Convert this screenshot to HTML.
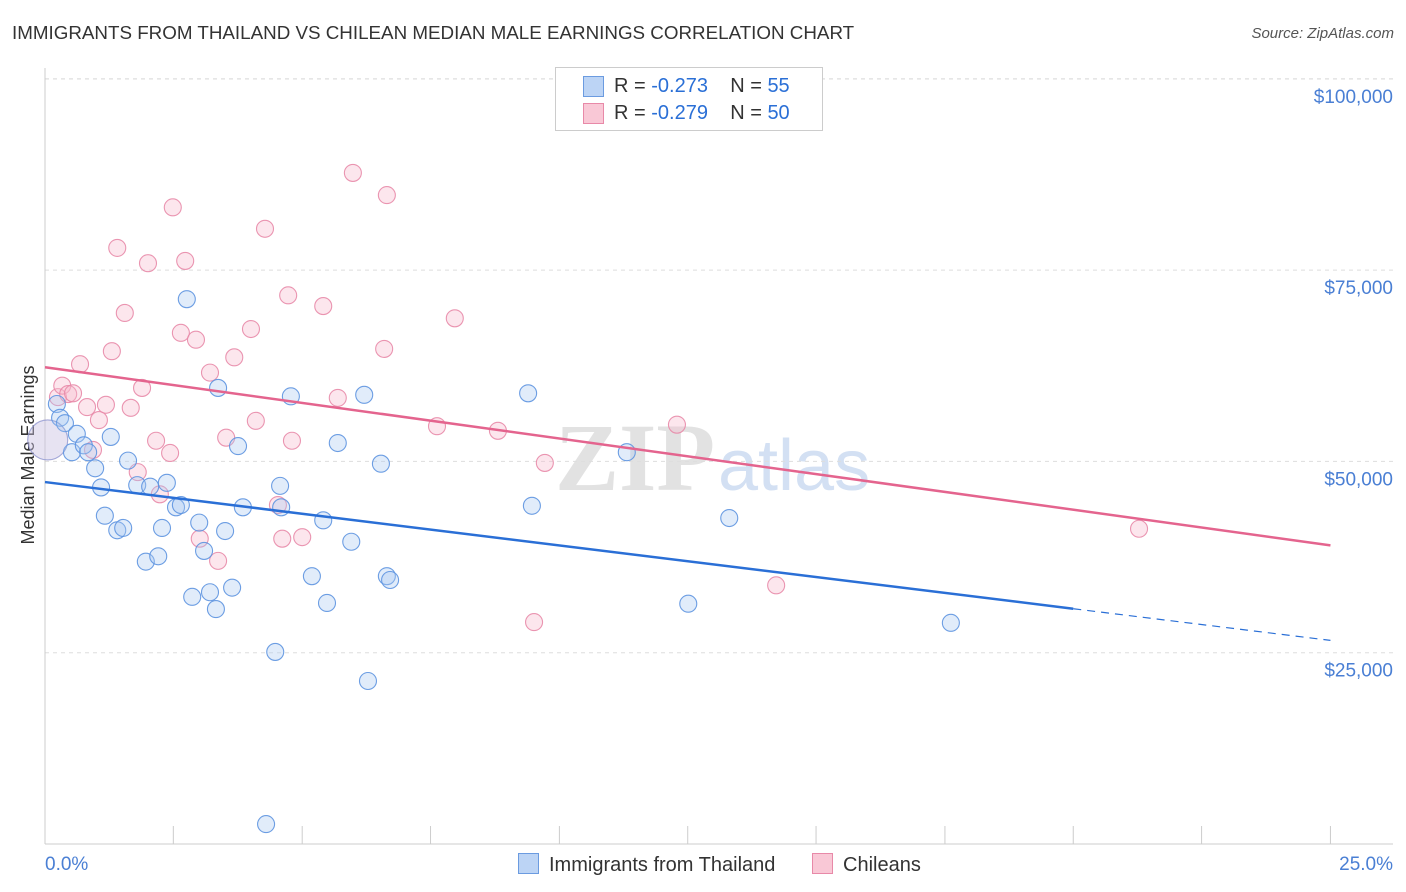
<!DOCTYPE html>
<html><head><meta charset="utf-8"><style>
body{margin:0;background:#fff;font-family:"Liberation Sans",sans-serif;}
#wrap{position:relative;width:1406px;height:892px;overflow:hidden;}
.t{position:absolute;white-space:nowrap;}
</style></head><body>
<div id="wrap">
<div class="t" style="left:12px;top:22px;font-size:18.8px;color:#333;">IMMIGRANTS FROM THAILAND VS CHILEAN MEDIAN MALE EARNINGS CORRELATION CHART</div>
<div class="t" style="right:12px;top:25px;font-size:15px;color:#555;font-style:italic;">Source: ZipAtlas.com</div>
<svg id="plot" width="1406" height="892" style="position:absolute;left:0;top:0"></svg>
</div>
<script>
const blueX=[0.22,0.28,0.37,0.50,0.59,0.72,0.80,0.93,1.04,1.11,1.22,1.34,1.45,1.54,1.71,1.87,1.95,2.10,2.17,2.26,2.43,2.52,2.63,2.73,2.86,2.95,3.06,3.17,3.21,3.34,3.47,3.58,3.67,4.10,4.27,4.36,4.38,4.56,4.95,5.16,5.23,5.43,5.68,5.92,5.99,6.23,6.34,6.40,8.96,9.03,10.79,11.93,12.69,16.80,0.05];
const blueY=[57.5,55.7,55.0,51.2,53.6,52.1,51.2,49.1,46.6,42.9,53.2,41.0,41.3,50.1,46.9,36.9,46.7,37.6,41.3,47.2,44.0,44.3,71.2,32.3,42.0,38.3,32.9,30.7,59.6,40.9,33.5,52.0,44.0,2.6,25.1,46.8,44.0,58.5,35.0,42.3,31.5,52.4,39.5,58.7,21.3,49.7,35.0,34.5,58.9,44.2,51.2,31.4,42.6,28.9,52.8];
const pinkX=[0.05,0.24,0.32,0.43,0.52,0.65,0.78,0.89,1.00,1.13,1.24,1.34,1.48,1.59,1.72,1.80,1.91,2.06,2.13,2.32,2.37,2.52,2.60,2.80,2.87,3.06,3.21,3.36,3.51,3.82,3.91,4.08,4.32,4.40,4.51,4.58,4.77,5.16,5.43,5.71,6.29,6.34,7.27,7.60,8.40,9.27,9.07,11.72,13.56,20.29];
const pinkY=[52.8,58.4,59.9,58.8,58.9,62.7,57.1,51.5,55.4,57.4,64.4,77.9,69.4,57.0,48.6,59.6,75.9,52.7,45.7,51.1,83.2,66.8,76.2,65.9,39.9,61.6,37.0,53.1,63.6,67.3,55.3,80.4,44.3,39.9,71.7,52.7,40.1,70.3,58.3,87.7,64.7,84.8,54.6,68.7,54.0,49.8,29.0,54.8,33.8,41.2];
const blueTrend=[47.3,25.6];
const pinkTrend=[62.3,37.9];
const yTicks=[25,50,75,100];
const yTickLabels=["$25,000","$50,000","$75,000","$100,000"];
const xTicks=[0,2.38,4.77,7.15,9.54,11.92,14.3,16.69,19.07,21.45,23.84];

const X0=45,X1=1393,Y0=844,PPK=191.3/25;
const sx=v=>X0+(X1-X0)*v/25, sy=v=>Y0-v*PPK;
const svg=document.getElementById('plot');const NS='http://www.w3.org/2000/svg';
function mk(tag,attrs,parent){const e=document.createElementNS(NS,tag);for(const k in attrs)e.setAttribute(k,attrs[k]);(parent||svg).appendChild(e);return e;}
let wm=mk('text',{x:555,y:490,'font-size':96,'font-family':'Liberation Serif,serif',fill:'#e2e2e2','font-weight':'bold'});wm.textContent='ZIP';


let wm2=mk('text',{x:718,y:490,'font-size':72,'font-family':'Liberation Sans,sans-serif',fill:'#d3e0f3'});wm2.textContent='atlas';


mk('line',{x1:X0,x2:X1,y1:79,y2:79,stroke:'#ddd','stroke-dasharray':'4,4'});
yTicks.forEach((v,i)=>{
 const g=mk('line',{x1:X0,x2:X1,y1:sy(v),y2:sy(v),stroke:'#ddd','stroke-dasharray':'4,4'});
 
 
 const t=mk('text',{x:1393,y:sy(v)+24,'text-anchor':'end','font-size':19,fill:'#4a7fd4'});t.textContent=yTickLabels[i];
 
 
});
mk('line',{x1:X0,x2:X0,y1:68,y2:Y0,stroke:'#ccc'});
mk('line',{x1:X0,x2:X1,y1:Y0,y2:Y0,stroke:'#ccc'});
xTicks.forEach(v=>{const l=mk('line',{x1:sx(v),x2:sx(v),y1:826,y2:Y0,stroke:'#ccc'});
 
 });
let xl=mk('text',{x:45,y:870,'font-size':19,fill:'#4a7fd4'});xl.textContent='0.0%';


let xr=mk('text',{x:1393,y:870,'text-anchor':'end','font-size':19,fill:'#4a7fd4'});xr.textContent='25.0%';


let yt=mk('text',{x:34,y:455,'font-size':18,fill:'#333',transform:'rotate(-90 34 455)','text-anchor':'middle'});yt.textContent='Median Male Earnings';


function pts(xs,ys,fill,stroke,name){xs.forEach((x,i)=>{const big=i===xs.length-1&&name==='blue'||i===0&&name==='pink';
 const c=mk('circle',{cx:sx(x),cy:sy(ys[i]),r:big?20:8.5,fill:fill,stroke:stroke,'stroke-width':1.1,'fill-opacity':big?0.25:0.35,'stroke-opacity':big?0.5:0.9});
 
 });}
pts(pinkX,pinkY,'#f7b8cb','#e889a8','pink');
pts(blueX,blueY,'#a9c8f2','#5d93e0','blue');
const bEnd=19.07, bAt=v=>blueTrend[0]+(blueTrend[1]-blueTrend[0])*v/25;
let bl=mk('line',{x1:sx(0),y1:sy(bAt(0)),x2:sx(bEnd),y2:sy(bAt(bEnd)),stroke:'#2a6fd6','stroke-width':2.5});


let bd=mk('line',{x1:sx(bEnd),y1:sy(bAt(bEnd)),x2:sx(23.84),y2:sy(bAt(23.84)),stroke:'#2a6fd6','stroke-width':1.2,'stroke-dasharray':'8,6'});


const pAt=v=>pinkTrend[0]+(pinkTrend[1]-pinkTrend[0])*v/25;
let pl=mk('line',{x1:sx(0),y1:sy(pAt(0)),x2:sx(23.84),y2:sy(pAt(23.84)),stroke:'#e4648e','stroke-width':2.5});


</script>
<div style="position:absolute;left:555px;top:67px;width:266px;height:62px;border:1px solid #ccc;background:#fff;font-size:20px;">
 <div style="position:absolute;left:27px;top:8px;width:19px;height:19px;background:#bcd4f5;border:1px solid #6b9be0;"></div>
 <div class="t" style="left:58px;top:7px;color:#333;">R = <span style="color:#2a6fd6">-0.273</span>&nbsp;&nbsp;&nbsp; N = <span style="color:#2a6fd6">55</span></div>
 <div style="position:absolute;left:27px;top:35px;width:19px;height:19px;background:#f9c8d6;border:1px solid #e889a8;"></div>
 <div class="t" style="left:58px;top:34px;color:#333;">R = <span style="color:#2a6fd6">-0.279</span>&nbsp;&nbsp;&nbsp; N = <span style="color:#2a6fd6">50</span></div>
</div>
<div style="position:absolute;left:518px;top:853px;font-size:20px;color:#333;">
 <span style="display:inline-block;width:19px;height:19px;background:#bcd4f5;border:1px solid #6b9be0;vertical-align:-3px;margin-right:10px;"></span>Immigrants from Thailand</div>
<div style="position:absolute;left:812px;top:853px;font-size:20px;color:#333;">
 <span style="display:inline-block;width:19px;height:19px;background:#f9c8d6;border:1px solid #e889a8;vertical-align:-3px;margin-right:10px;"></span>Chileans</div>
</body></html>
